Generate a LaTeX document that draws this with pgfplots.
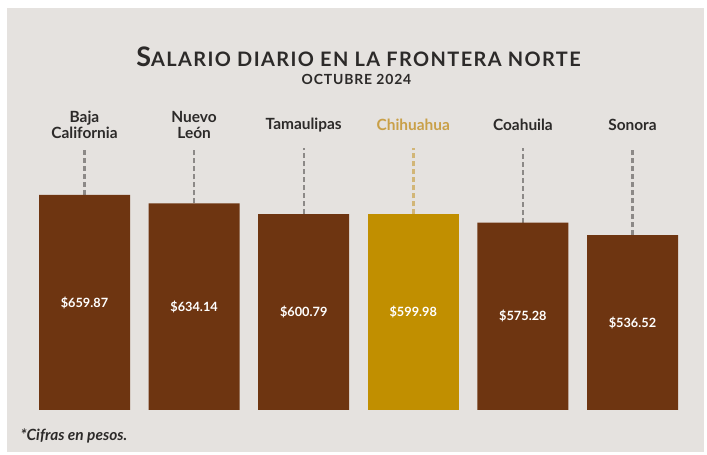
\documentclass[border=0pt]{standalone}
\usepackage{fontspec}
\setmainfont{Lato}
\usepackage{pgfplots}
\pgfplotsset{compat=1.18}
\definecolor{bg}{HTML}{E5E2DF}
\definecolor{brownbar}{HTML}{6E3511}
\definecolor{goldbar}{HTML}{C18F00}
\definecolor{goldtxt}{HTML}{C9A048}
\definecolor{golddash}{HTML}{D2B677}
\definecolor{dashgray}{HTML}{8C8987}
\definecolor{txt}{HTML}{2C2A29}

\begin{document}
\begin{tikzpicture}[x=1bp,y=1bp]
\fill[white] (0,0) rectangle (707,455);
\fill[bg] (7,3) rectangle (704,447);
% title block
\node[txt, anchor=base, font=\bfseries] at (358.5,388)
  {\addfontfeatures{LetterSpace=7}{\fontsize{27}{27}\selectfont S}{\fontsize{20}{20}\selectfont ALARIO DIARIO EN LA FRONTERA NORTE}};
\node[txt, anchor=base, font=\bfseries\fontsize{14}{14}\selectfont] at (356.5,370) {\addfontfeatures{LetterSpace=6}OCTUBRE 2024};
\node[txt, anchor=base west, font=\bfseries\itshape\fontsize{15.5}{16}\selectfont] at (17,14) {*Cifras en pesos.};

\begin{axis}[
  at={(29.7bp,45bp)}, anchor=south west,
  scale only axis, width=657.6bp, height=262bp,
  xmin=-0.5, xmax=5.5, ymin=0, ymax=804,
  axis line style={draw=none},
  ytick=\empty,
  xtick={0,1,2,3,4,5},
  major tick length=0pt,
  xticklabel pos=upper,
  xticklabels={{Baja\\California},{Nuevo\\León},Tamaulipas,{\color{goldtxt}Chihuahua},Coahuila,Sonora},
  xticklabel style={anchor=center, yshift=23bp, align=center, text=txt,
    font=\bfseries\fontsize{15.5}{15.5}\selectfont},
  clip=false,
]
% dashed guide lines from each bar top
\addplot[dashgray, line width=2.4bp, dash pattern=on 5bp off 3bp] coordinates {(0,659.87) (0,804)};
\addplot[dashgray, line width=2.4bp, dash pattern=on 5bp off 3bp] coordinates {(1,634.14) (1,804)};
\addplot[dashgray, line width=2.4bp, dash pattern=on 5bp off 3bp] coordinates {(2,600.79) (2,804)};
\addplot[golddash, line width=2.4bp, dash pattern=on 5bp off 3bp] coordinates {(3,599.98) (3,804)};
\addplot[dashgray, line width=2.4bp, dash pattern=on 5bp off 3bp] coordinates {(4,575.28) (4,804)};
\addplot[dashgray, line width=2.4bp, dash pattern=on 5bp off 3bp] coordinates {(5,536.52) (5,804)};
% bars
\pgfplotsset{barlbl/.style={
  ybar, bar width=91bp, bar shift=0pt, draw=none,
  point meta=explicit symbolic,
  visualization depends on=rawy \as \yv,
  nodes near coords={\$\pgfplotspointmeta},
  nodes near coords style={anchor=center, text=white,
    font=\bfseries\fontsize{12.8}{13}\selectfont,
    yshift={-0.16294*\yv*1bp}},
}}
\addplot[barlbl, fill=brownbar] coordinates {
  (0,659.87)[659.87] (1,634.14)[634.14] (2,600.79)[600.79] (4,575.28)[575.28] (5,536.52)[536.52]};
\addplot[barlbl, fill=goldbar] coordinates {(3,599.98)[599.98]};
\end{axis}
\end{tikzpicture}
\end{document}
